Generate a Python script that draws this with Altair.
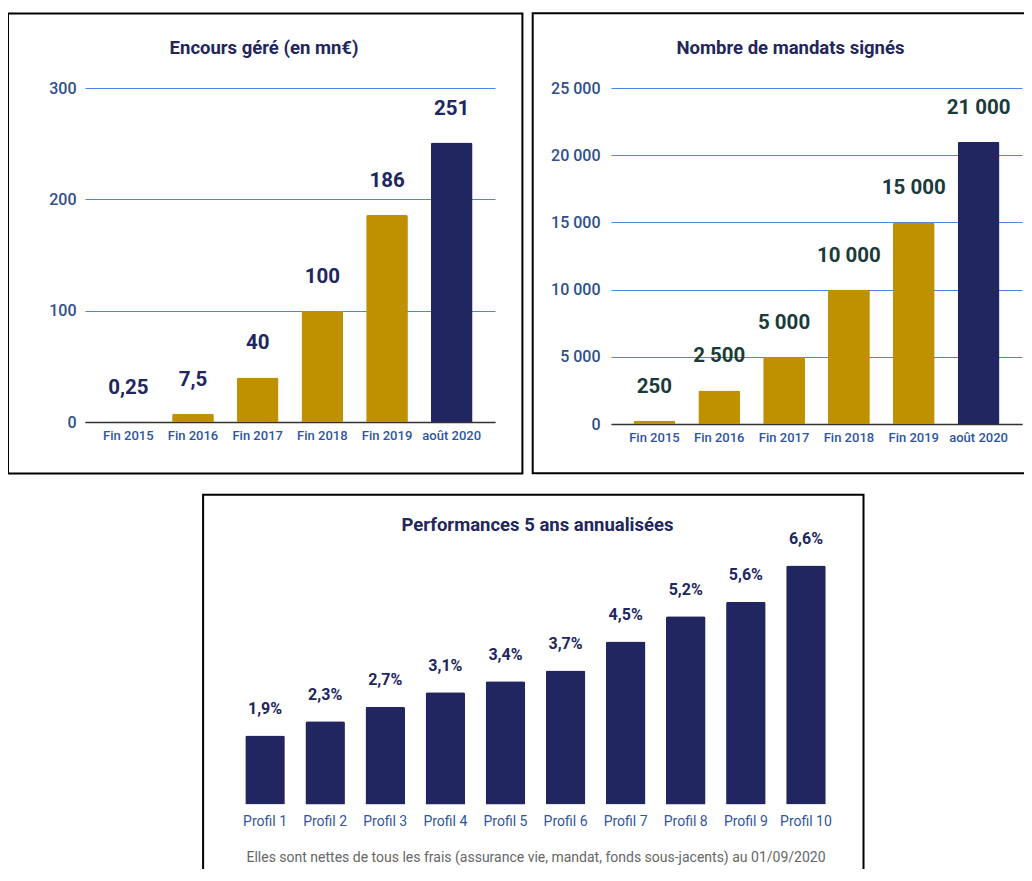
import altair as alt
import pandas as pd

# ---------------- data ----------------
periods = ["Fin 2015", "Fin 2016", "Fin 2017", "Fin 2018", "Fin 2019", "août 2020"]
kinds = ["passé", "passé", "passé", "passé", "passé", "actuel"]
encours = [0.25, 7.5, 40, 100, 186, 251]
encours_labels = ["0,25", "7,5", "40", "100", "186", "251"]
mandats = [250, 2500, 5000, 10000, 15000, 21000]
mandats_labels = ["250", "2 500", "5 000", "10 000", "15 000", "21 000"]
profils = ["Profil 1", "Profil 2", "Profil 3", "Profil 4", "Profil 5",
           "Profil 6", "Profil 7", "Profil 8", "Profil 9", "Profil 10"]
perf = [1.9, 2.3, 2.7, 3.1, 3.4, 3.7, 4.5, 5.2, 5.6, 6.6]
perf_labels = ["1,9%", "2,3%", "2,7%", "3,1%", "3,4%", "3,7%", "4,5%", "5,2%", "5,6%", "6,6%"]
encours_ticks = [0, 100, 200, 300]
mandats_ticks = [0, 5000, 10000, 15000, 20000, 25000]
footnote = "Elles sont nettes de tous les frais (assurance vie, mandat, fonds sous-jacents) au 01/09/2020"

# ---------------- style ----------------
FONT = "Roboto"
NAVY = "#212560"
GOLD = "#bf9000"
TITLE_COL = "#22265a"
YLAB_COL = "#2e4f8d"
XLAB_COL = "#2f55a0"
GRID_COL = "#4a86e8"
NO_VIEW = alt.ViewBackground(stroke="transparent", strokeWidth=0)

color_scale = alt.Scale(domain=["passé", "actuel"], range=[GOLD, NAVY])
one = pd.DataFrame({"f": [0]})


def frame(x0, x1, y0, y1):
    return alt.Chart(one).mark_rect(filled=False, stroke="black", strokeWidth=2).encode(
        x=alt.value(x0), x2=alt.value(x1), y=alt.value(y0), y2=alt.value(y1)
    )


def top_panel(values, labels, ticks, ymax, title, label_col, label_expr, lab_pad,
              w, h, fr, title_offset, title_dx):
    df = pd.DataFrame({"period": periods, "value": values, "label": labels, "kind": kinds})
    base = alt.Chart(df)
    x = alt.X("period:N", sort=periods, title=None,
              scale=alt.Scale(paddingInner=0.355, paddingOuter=0.347),
              axis=alt.Axis(labelAngle=0, labelFont=FONT, labelFontSize=13,
                            labelFontWeight=500, labelColor=XLAB_COL, labelPadding=7,
                            ticks=False, tickSize=0, domainColor="#333333", domainWidth=1.5))
    y = alt.Y("value:Q", title=None, scale=alt.Scale(domain=[0, ymax], nice=False),
              axis=alt.Axis(values=ticks, grid=True, gridColor=GRID_COL, gridWidth=1.2,
                            domain=False, ticks=False, tickSize=0, labelPadding=lab_pad,
                            labelFont=FONT, labelFontSize=16, labelFontWeight=500,
                            labelColor=YLAB_COL, labelExpr=label_expr))
    bars = base.mark_bar(cornerRadiusTopLeft=2, cornerRadiusTopRight=2).encode(
        x=x, y=y, color=alt.Color("kind:N", scale=color_scale, legend=None))
    text = base.mark_text(dy=-34, baseline="middle", font=FONT, fontSize=20.5,
                          fontWeight="bold", color=label_col).encode(
        x=alt.X("period:N", sort=periods), y=alt.Y("value:Q"), text="label:N")
    return alt.layer(frame(*fr), bars, text).properties(
        width=w, height=h, view=NO_VIEW,
        title=alt.TitleParams(text=title, font=FONT, fontSize=18.5, fontWeight="bold",
                              color=TITLE_COL, anchor="middle", offset=title_offset,
                              dx=title_dx))


p1 = top_panel(encours, encours_labels, encours_ticks, 300, "Encours géré (en mn€)",
               "#22265e", "datum.label", 9, 410, 334,
               (-77, 437.4, -74.5, 385.4), -45, -26)
p2 = top_panel(mandats, mandats_labels, mandats_ticks, 25000, "Nombre de mandats signés",
               "#1b3b3a", "replace(format(datum.value, ','), ',', ' ')", 11, 411, 336,
               (-78.3, 437, -74.7, 385.2), -45.5, -26)

df3 = pd.DataFrame({"profil": profils, "perf": perf, "label": perf_labels})
base3 = alt.Chart(df3)
x3 = alt.X("profil:N", sort=profils,
           scale=alt.Scale(paddingInner=0.342, paddingOuter=0.171),
           axis=alt.Axis(labelAngle=0, labelFont=FONT, labelFontSize=14, labelColor=XLAB_COL,
                         labelPadding=10, domain=False, ticks=False, tickSize=0,
                         title=footnote, titleFont=FONT, titleFontSize=14,
                         titleFontWeight="normal", titleColor="#666666", titlePadding=22))
y3 = alt.Y("perf:Q", scale=alt.Scale(domain=[0, 7], nice=False), axis=None)
bars3 = base3.mark_bar(color=NAVY, cornerRadiusTopLeft=2, cornerRadiusTopRight=2).encode(x=x3, y=y3)
text3 = base3.mark_text(dy=-26.5, baseline="middle", font=FONT, fontSize=16,
                        fontWeight="bold", color="#22265e").encode(
    x=alt.X("profil:N", sort=profils), y=alt.Y("perf:Q"), text="label:N")
p3 = alt.layer(frame(-31.9, 628.5, -56.2, 350), bars3, text3).properties(
    width=601, height=253.4, view=NO_VIEW,
    title=alt.TitleParams(text="Performances 5 ans annualisées", font=FONT, fontSize=18.5,
                          fontWeight="bold", color=TITLE_COL, anchor="middle",
                          offset=-41, dx=2))

spacer = alt.Chart(one).mark_point(opacity=0).properties(width=108.6, height=1, view=NO_VIEW)

top = alt.hconcat(p1, p2, spacing=7)
bottom = alt.hconcat(spacer, p3, spacing=8)
chart = alt.vconcat(top, bottom, spacing=18).properties(
    padding={"left": -1, "top": 4, "right": -25, "bottom": -33.5}
).configure_view(stroke="transparent", strokeWidth=0).configure(font=FONT)

chart.save("out.html", embed_options={"renderer": "svg", "actions": False})
